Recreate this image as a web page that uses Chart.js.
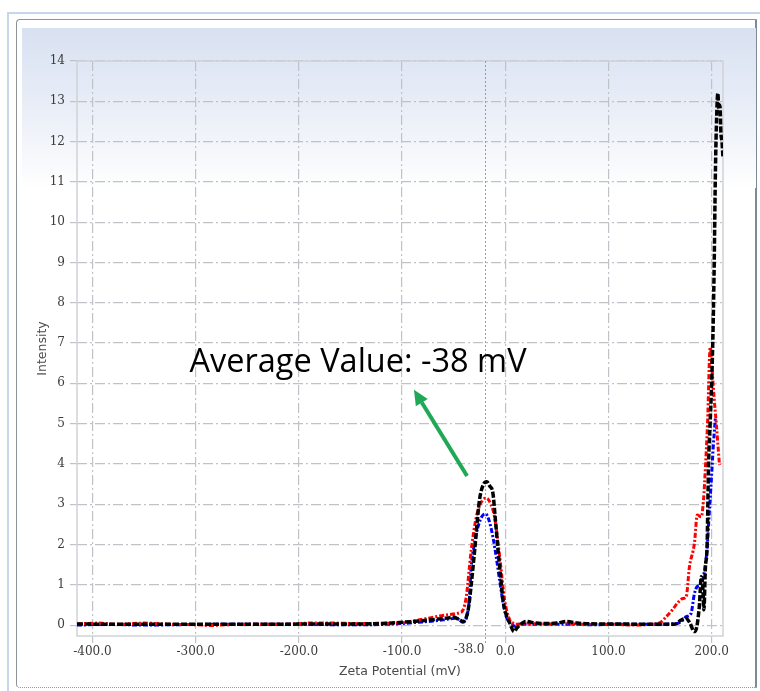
<!DOCTYPE html>
<html>
<head>
<meta charset="utf-8">
<script src="https://cdn.jsdelivr.net/npm/chart.js@4.4.1/dist/chart.umd.min.js"></script>
<style>
body { margin: 0; background: #fff; width: 760px; height: 691px; overflow: hidden; position: relative; }
#outer { position: absolute; left: 7px; top: 12px; right: 0; bottom: 0; border-left: 2px solid #c6d6ec; border-top: 2px solid #c6d6ec; }
#inner { position: absolute; left: 16px; top: 19px; width: 738px; height: 667px; border: 1px solid #8e9399; border-right: 2px solid #7d8a98; border-bottom: 1px dotted #9a9a9a; border-radius: 4px 0 0 4px; background: #fff; }
#grad { position: absolute; left: 22px; top: 28px; width: 734px; height: 160px; background: linear-gradient(#d8e1f2, #e9eef7 50%, #fafbfd 90%, #fff); }
canvas { position: absolute; left: 0; top: 0; }
</style>
</head>
<body>
<div id="outer"></div>
<div id="inner"></div>
<div id="grad"></div>
<canvas id="zeta" width="760" height="691"></canvas>
<script>
// tick values
const xTicks = [-400, -300, -200, -100, 0, 100, 200];
const yTicks = [0, 1, 2, 3, 4, 5, 6, 7, 8, 9, 10, 11, 12, 13, 14];

// run 1 (black)
const blackX = [-415, -380, -340, -300, -260, -220, -180, -140, -120, -100, -80, -65, -55, -50, -45, -41, -36, -33, -29.6, -25, -21, -18, -15, -12, -9.5, -7, -4.5, -2.2, 1, 4.3, 8.5, 11, 14, 20, 30, 40, 50, 60, 70, 90, 110, 130, 150, 165, 170, 175, 179, 183, 185, 188, 190, 191.5, 192.5, 194, 195.5, 197, 198.5, 200, 201.5, 202.5, 203.5, 204.5, 206, 207, 208, 209, 210, 211];
const blackY = [0.03, 0.02, 0.02, 0.02, 0.02, 0.02, 0.03, 0.03, 0.04, 0.07, 0.11, 0.15, 0.18, 0.20, 0.14, 0.09, 0.37, 1.0, 1.87, 3.1, 3.5, 3.56, 3.45, 3.28, 2.6, 1.86, 1.2, 0.62, 0.25, 0.05, -0.16, -0.08, 0.0, 0.09, 0.05, 0.04, 0.05, 0.09, 0.05, 0.03, 0.03, 0.02, 0.02, 0.03, 0.12, 0.17, 0.05, -0.16, -0.1, 0.45, 1.2, 0.9, 0.38, 1.46, 1.9, 4.0, 5.0, 6.0, 7.5, 9.0, 11.0, 12.3, 13.2, 12.8, 12.9, 12.2, 12.0, 11.6];

// run 2 (red)
const redX = [-415, -395, -375, -350, -325, -300, -285, -270, -240, -210, -190, -165, -145, -125, -110, -100, -85, -75, -65, -58, -52, -47, -44, -41, -37.8, -33, -28, -22, -18, -14, -10.4, -5.4, -0.6, 4.3, 7.5, 12, 20, 30, 45, 55, 65, 85, 105, 125, 140, 150, 156, 162, 167, 172, 175.3, 178.5, 183.3, 186, 189.9, 192.1, 194, 196, 198.6, 200.5, 202.5, 204.5, 206, 207.6];
const redY = [0.03, 0.05, 0.02, 0.05, 0.02, 0.01, -0.01, 0.01, 0.02, 0.02, 0.05, 0.05, 0.04, 0.04, 0.05, 0.06, 0.12, 0.17, 0.22, 0.25, 0.27, 0.29, 0.31, 0.37, 0.7, 1.86, 2.69, 3.1, 3.15, 3.0, 2.69, 1.7, 0.62, 0.13, 0.05, 0.02, 0.05, 0.03, 0.03, 0.07, 0.03, 0.02, 0.02, 0.0, 0.02, 0.06, 0.21, 0.38, 0.55, 0.66, 0.7, 1.45, 2.03, 2.73, 2.69, 3.1, 3.93, 5.0, 6.9, 6.3, 5.6, 5.0, 4.5, 3.97];

// run 3 (blue)
const blueX = [-415, -385, -350, -320, -280, -240, -200, -160, -135, -115, -100, -85, -70, -60, -52, -47, -44, -41, -37.8, -35, -33, -30, -26.4, -22.5, -19, -16, -11.9, -8.5, -5.4, -2, 1, 5.9, 9, 13, 25, 45, 65, 85, 105, 125, 145, 160, 168, 172, 175.3, 180, 183.3, 186, 189, 192, 195.5, 197.5, 199.5, 201.5, 203.7];
const blueY = [0.0, 0.02, 0.0, 0.01, 0.02, 0.02, 0.02, 0.01, 0.01, 0.02, 0.04, 0.07, 0.1, 0.13, 0.16, 0.17, 0.12, 0.07, 0.17, 0.6, 1.45, 2.0, 2.44, 2.7, 2.76, 2.62, 2.18, 1.65, 1.1, 0.55, 0.21, 0.05, -0.03, 0.02, 0.02, 0.02, 0.02, 0.01, 0.02, 0.02, 0.02, 0.03, 0.05, 0.12, 0.21, 0.29, 0.78, 0.96, 1.0, 1.2, 1.87, 2.7, 3.52, 4.4, 5.17];

// the marker line sits on the peak, labelled with the reported average
const markerX = -20;
const markerLabel = '-38.0';

// annotation
const noteText = 'Average Value: -38 mV';
const noteX = -306, noteY = 6.27;
const arrowFrom = [-37, 3.7];
const arrowTo = [-88.5, 5.84];

function pts(xs, ys) {
    return xs.map(function (x, i) { return { x: x, y: ys[i] }; });
}

const tickFont = { family: 'DejaVu Serif', size: 12 };
const titleFont = { family: 'DejaVu Sans', size: 12.5 };

const extras = {
    id: 'extras',
    beforeDatasetsDraw(chart) {
        const ctx = chart.ctx;
        const a = chart.chartArea;
        const xs = chart.scales.x;
        ctx.save();
        // plot frame
        ctx.strokeStyle = '#cfd2d6';
        ctx.lineWidth = 1.5;
        ctx.strokeRect(a.left, a.top, a.right - a.left, a.bottom - a.top);
        // marker line
        const mx = Math.round(xs.getPixelForValue(markerX)) + 0.5;
        ctx.strokeStyle = '#8d9cbc';
        ctx.lineWidth = 1;
        ctx.setLineDash([2, 2]);
        ctx.beginPath();
        ctx.moveTo(mx, a.top);
        ctx.lineTo(mx, a.bottom + 7);
        ctx.stroke();
        ctx.setLineDash([]);
        ctx.font = '12px "DejaVu Serif"';
        ctx.fillStyle = '#3c3c3c';
        ctx.textAlign = 'right';
        ctx.textBaseline = 'top';
        ctx.fillText(markerLabel, mx - 1, a.bottom + 8);
        ctx.restore();
    },
    afterDraw(chart) {
        const ctx = chart.ctx;
        const xs = chart.scales.x, ys = chart.scales.y;
        ctx.save();
        ctx.font = '32.5px "Open Sans"';
        ctx.fillStyle = '#000';
        ctx.textBaseline = 'alphabetic';
        ctx.fillText(noteText, xs.getPixelForValue(noteX), ys.getPixelForValue(noteY));

        const x1 = xs.getPixelForValue(arrowFrom[0]), y1 = ys.getPixelForValue(arrowFrom[1]);
        const x2 = xs.getPixelForValue(arrowTo[0]), y2 = ys.getPixelForValue(arrowTo[1]);
        const ang = Math.atan2(y2 - y1, x2 - x1);
        const head = 15, half = 7;
        const bx = x2 - head * Math.cos(ang), by = y2 - head * Math.sin(ang);
        ctx.strokeStyle = '#1fa855';
        ctx.fillStyle = '#1fa855';
        ctx.lineWidth = 4;
        ctx.beginPath();
        ctx.moveTo(x1, y1);
        ctx.lineTo(bx, by);
        ctx.stroke();
        ctx.beginPath();
        ctx.moveTo(x2, y2);
        ctx.lineTo(bx + half * Math.sin(ang), by - half * Math.cos(ang));
        ctx.lineTo(bx - half * Math.sin(ang), by + half * Math.cos(ang));
        ctx.closePath();
        ctx.fill();
        ctx.restore();
    }
};

new Chart(document.getElementById('zeta'), {
    type: 'line',
    data: {
        datasets: [
            { label: 'Run 1', data: pts(blackX, blackY), borderColor: '#000', borderWidth: 3.5, borderDash: [6, 2] },
            { label: 'Run 2', data: pts(redX, redY), borderColor: '#f00', borderWidth: 3, borderDash: [5, 2, 2, 2] },
            { label: 'Run 3', data: pts(blueX, blueY), borderColor: '#00f', borderWidth: 3, borderDash: [5, 2, 2, 2] }
        ]
    },
    options: {
        responsive: false,
        animation: false,
        layout: { padding: { left: 30, right: 37, top: 61, bottom: 9 } },
        elements: {
            point: { radius: 0 },
            line: { cubicInterpolationMode: 'monotone' }
        },
        plugins: { legend: { display: false }, tooltip: { enabled: false } },
        scales: {
            x: {
                type: 'linear',
                min: -415,
                max: 211,
                afterBuildTicks: function (s) { s.ticks = xTicks.map(function (v) { return { value: v }; }); },
                afterFit: function (s) { s.height = 46; },
                ticks: { autoSkip: false, maxRotation: 0, padding: 2, color: '#3c3c3c', font: tickFont,
                    callback: function (v) { return Number(v).toFixed(1); } },
                grid: { color: '#bfc3c8', lineWidth: 1.2, tickLength: 7, tickColor: '#bfc3c8' },
                border: { display: false, dash: [10, 3, 2, 3] },
                title: { display: true, text: 'Zeta Potential (mV)', color: '#4a4a4a', font: titleFont, padding: { top: 1, bottom: 3 } }
            },
            y: {
                min: -0.27,
                max: 14,
                afterBuildTicks: function (s) { s.ticks = yTicks.map(function (v) { return { value: v }; }); },
                afterFit: function (s) { s.width = 47; },
                ticks: { autoSkip: false, padding: 5, color: '#3c3c3c', font: tickFont },
                grid: { color: '#bfc3c8', lineWidth: 1.2, tickLength: 7, tickColor: '#bfc3c8' },
                border: { display: false, dash: [10, 3, 2, 3] },
                title: { display: true, text: 'Intensity', color: '#4a4a4a', font: titleFont, padding: { top: 5, bottom: 0 } }
            }
        }
    },
    plugins: [extras]
});
</script>
</body>
</html>
